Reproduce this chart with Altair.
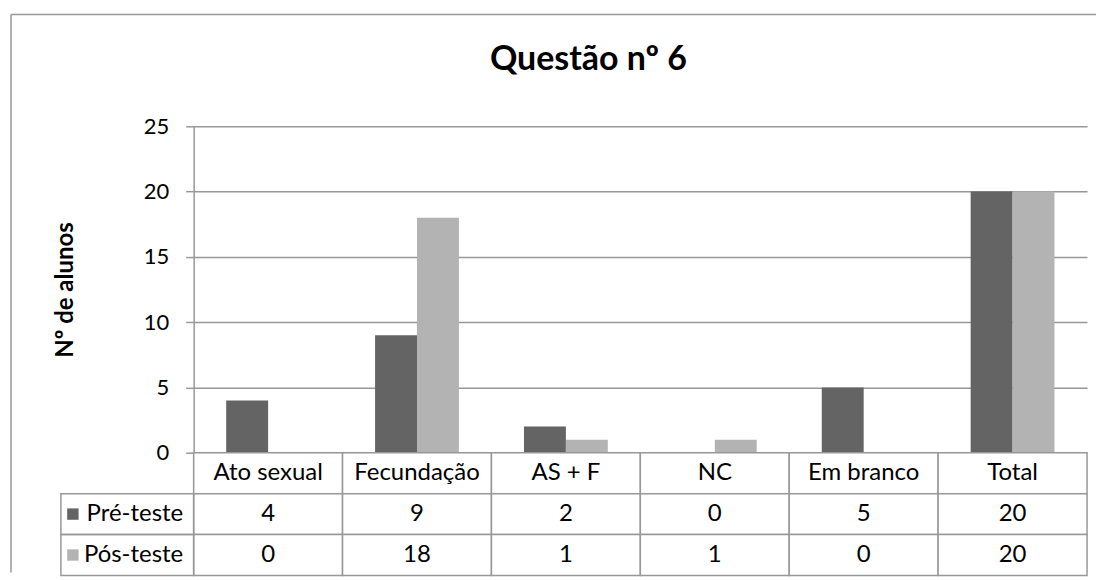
import altair as alt
import pandas as pd

# ---- data ----
categories = ["Ato sexual", "Fecundação", "AS + F", "NC", "Em branco", "Total"]
series = ["Pré-teste", "Pós-teste"]
pre_values = [4, 9, 2, 0, 5, 20]
post_values = [0, 18, 1, 1, 0, 20]
y_ticks = [0, 5, 10, 15, 20, 25]
title_text = "Questão nº 6"
y_title = "Nº de alunos"

rows = []
for c, a, b in zip(categories, pre_values, post_values):
    rows.append({"cat": c, "series": series[0], "value": a})
    rows.append({"cat": c, "series": series[1], "value": b})
df = pd.DataFrame(rows)
cat_df = pd.DataFrame({"cat": categories})
ser_df = pd.DataFrame({"series": series})
one = pd.DataFrame({"k": [0]})

FONT = "Lato"
GRID = "#989898"
colors = ["#646464", "#b3b3b3"]
W = 895
color_scale = alt.Scale(domain=series, range=colors)

# ---- panel A: bars ----
bars = alt.Chart(df).mark_bar().encode(
    x=alt.X("cat:N", sort=categories, axis=None,
            scale=alt.Scale(paddingInner=0.437, paddingOuter=0.2185)),
    xOffset=alt.XOffset("series:N", sort=series,
                        scale=alt.Scale(paddingInner=0, paddingOuter=0)),
    y=alt.Y("value:Q", scale=alt.Scale(domain=[0, 25], nice=False),
            axis=alt.Axis(values=y_ticks, title=y_title, titleFont=FONT,
                          titleFontSize=24, titleFontWeight="bold", titleColor="black",
                          titlePadding=66, labelFont=FONT, labelFontSize=22,
                          labelColor="black", labelPadding=17, tickSize=8,
                          tickColor=GRID, tickWidth=1.5, domainColor=GRID,
                          domainWidth=1.5, gridColor=GRID, gridWidth=1.5)),
    color=alt.Color("series:N", scale=color_scale, legend=None),
)
frame_v = alt.Chart(one).mark_rule(color=GRID, strokeWidth=1.5).encode(
    x=alt.value(-183), y=alt.value(-112), y2=alt.value(447))
frame_h = alt.Chart(one).mark_rule(color=GRID, strokeWidth=1.5).encode(
    x=alt.value(-183), x2=alt.value(904), y=alt.value(-112))
panel_a = alt.layer(bars, frame_v, frame_h).properties(width=W, height=327)

# ---- panel B: header row of the data table ----
X_tab = alt.X("cat:N", sort=categories, axis=None,
              scale=alt.Scale(paddingInner=0, paddingOuter=0))
hdr_cells = alt.Chart(cat_df).mark_rect(fill="white", stroke=GRID, strokeWidth=1.5).encode(x=X_tab)
hdr_text = alt.Chart(cat_df).mark_text(font=FONT, fontSize=24, color="black").encode(
    x=X_tab, text="cat:N")
panel_b = alt.layer(hdr_cells, hdr_text).properties(width=W, height=41)

# ---- panel C: value rows ----
Y_tab = alt.Y("series:N", sort=series, scale=alt.Scale(paddingInner=0, paddingOuter=0),
              axis=alt.Axis(title=None, labelFont=FONT, labelFontSize=24,
                            labelColor="black", ticks=False, domain=False,
                            labelPadding=11, zindex=1))
val_cells = alt.Chart(df).mark_rect(fill="white", stroke=GRID, strokeWidth=1.5).encode(
    x=X_tab, y=Y_tab)
val_text = alt.Chart(df).mark_text(font=FONT, fontSize=24, color="black").encode(
    x=X_tab, y=Y_tab, text="value:Q")
leg_cells = alt.Chart(ser_df).mark_rect(fillOpacity=0, stroke=GRID, strokeWidth=1.5).encode(
    x=alt.value(-133), x2=alt.value(0), y=Y_tab)
leg_sq = alt.Chart(ser_df).mark_square(size=130, opacity=1).encode(
    x=alt.value(-121), y=Y_tab,
    color=alt.Color("series:N", scale=color_scale, legend=None))
panel_c = alt.layer(val_cells, val_text, leg_cells, leg_sq).properties(width=W, height=82)

chart = alt.vconcat(panel_a, panel_b, panel_c, spacing=0, bounds="flush").properties(
    padding={"left": 2, "top": 5, "right": 0, "bottom": 0},
    background="white",
    title=alt.TitleParams(title_text, font=FONT, fontSize=34, fontWeight="bold",
                          color="black", anchor="middle", frame="group",
                          dx=-52, offset=-90, baseline="alphabetic"),
).configure_view(stroke=None)

chart.save("out.html", embed_options={"renderer": "svg", "actions": False})
